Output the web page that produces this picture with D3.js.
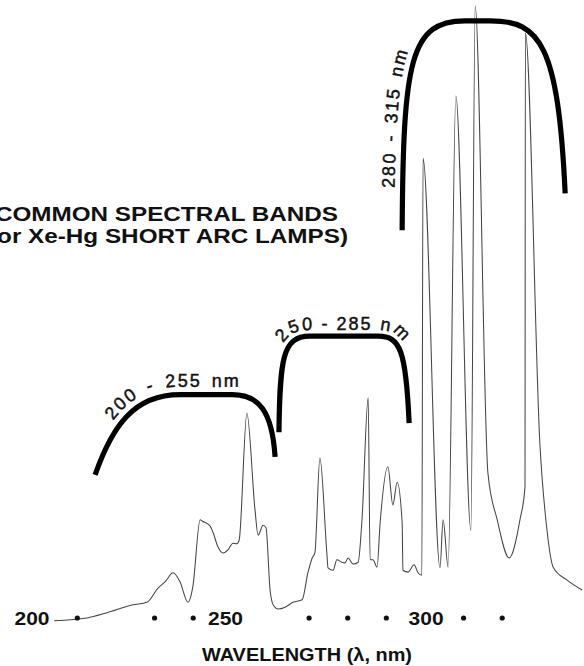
<!DOCTYPE html>
<html><head><meta charset="utf-8">
<script src="https://cdn.jsdelivr.net/npm/d3@7"></script>
<style>
html,body{margin:0;padding:0;background:#fff;}
svg{display:block;}
text{font-family:"Liberation Sans",Arial,Helvetica,sans-serif;fill:#111;}
</style></head><body>
<svg id="chart" width="584" height="666"></svg>
<script>
// ---- data ----
const wavelength = [204.0,212.5,217.7,224.4,228.0,230.9,232.7,234.8,236.6,238.65,239.9,241.8,242.3,244.35,245.1,246.4,247.7,249.0,250.3,251.3,251.9,253.9,256.0,256.8,258.1,258.85,259.9,260.7,262.0,263.8,265.8,268.2,269.7,270.8,271.5,272.8,274.6,274.9,276.2,277.2,278.5,279.3,280.1,281.4,282.7,283.7,285.3,285.8,286.55,287.6,288.4,290.4,291.7,292.8,294.1,294.3,295.6,297.2,298.2,299.2,299.5,303.9,304.7,306.0,308.0,311.9,313.0,316.3,318.7,321.8,324.6,325.9,326.0,329.8,331.6,333.2,336.8,340.7];
const intensity = [0.2,0.65,1.5,2.8,3.2,5.5,6.5,8.0,6.5,3.2,5.7,16.6,16.4,15.6,14.6,12.2,11.2,11.7,12.8,12.7,13.3,33.9,18.2,14.1,15.7,15.3,5.2,2.8,2.1,2.4,3.2,3.6,8.0,10.4,11.2,26.6,11.2,8.8,8.4,10.1,9.7,9.6,10.4,9.4,9.7,16.6,36.4,10.1,10.1,8.9,16.1,25.2,19.0,22.7,16.1,8.4,8.1,9.3,8.0,7.6,75.3,8.8,16.6,8.9,85.4,14.9,100,24.2,16.6,10.4,16.6,21.9,95.6,28.4,14.9,8.9,6.8,5.2];
const tickLabels = [200,250,300];
const tickDots = [210,230,240,270,280,290,310,320];
const bandLabels = ["200 - 255 nm","250 - 285 nm","280 - 315 nm"];
const bandStart = [214.6,262.2,294.1];
const bandEnd = [261.2,295.9,336.3];
const bandFootStart = [23.9,30.8,63.6];
const bandFootEnd = [26.8,32.3,69.6];
const bandTop = [36.9,46.4,97.6];
const titleLines = ["COMMON SPECTRAL BANDS","(or Xe-Hg SHORT ARC LAMPS)"];
const axisTitle = "WAVELENGTH (\u03BB, nm)";

// ---- styles / layout ----
const bandShape = [
  {wL:85,aL:0.2,bL:0.6,cL:0.45, wR:43,cR:0.4,aR:0.07,bR:0.76},
  {wL:31,aL:0.03,bL:0.75,cL:0.1, wR:31,cR:0.29,aR:0.1,bR:0.84},
  {wL:63,aL:0.016,bL:0.81,cL:0.127, wR:75,cR:0.33,aR:0.093,bR:0.86}
];
const labelOffset = [8,6,8];
const labelStartPt = [[104,414],[273,338],[394,188]];
const labelEndPt = [[241,384],[412,332],[397,46]];
const tickLabelDx = [-7.2,-6.8,0.6];

const svg = d3.select("#chart");
const x = d3.scaleLinear().domain([200,320]).range([38.7,502.2]);
const y = d3.scaleLinear().domain([0,100]).range([622,6]);
const axisY = 618;

// spectrum
const pts = wavelength.map((w,i)=>[w,intensity[i]]);
const line = d3.line().x(d=>x(d[0])).y(d=>y(d[1])).curve(d3.curveMonotoneX);
svg.append("path").attr("d",line(pts)).attr("fill","none")
  .attr("stroke","#454545").attr("stroke-width",1.05).attr("stroke-linejoin","round");

// brackets
function bracket(i,d){
  const s = bandShape[i];
  const xL = x(bandStart[i]) - d, xR = x(bandEnd[i]) + d;
  const yL = y(bandFootStart[i]), yR = y(bandFootEnd[i]), yT = y(bandTop[i]) - d;
  const wL = s.wL + d, wR = s.wR + d, hL = yL - yT, hR = yR - yT;
  const p = d3.path();
  p.moveTo(xL,yL);
  p.bezierCurveTo(xL+s.aL*wL, yL-s.bL*hL, xL+s.cL*wL, yT, xL+wL, yT);
  p.lineTo(xR-wR, yT);
  p.bezierCurveTo(xR-s.cR*wR, yT, xR-s.aR*wR, yR-s.bR*hR, xR, yR);
  return p.toString();
}
const defs = svg.append("defs");
bandLabels.forEach((lab,i)=>{
  svg.append("path").attr("d",bracket(i,0)).attr("fill","none")
    .attr("stroke","#000").attr("stroke-width",5.2).attr("stroke-linecap","butt");
  const lp = defs.append("path").attr("id","lp"+i).attr("d",bracket(i,labelOffset[i]));
  const node = lp.node();
  const total = node.getTotalLength();
  function nearest(pt){
    let best=0,bd=1e9;
    for(let l=0;l<=total;l+=0.5){const q=node.getPointAtLength(l);const dd=(q.x-pt[0])**2+(q.y-pt[1])**2;if(dd<bd){bd=dd;best=l;}}
    return best;
  }
  const s0 = nearest(labelStartPt[i]), s1 = nearest(labelEndPt[i]);
  const t = svg.append("text").attr("font-size",18).attr("font-weight","normal")
    .attr("stroke","#111").attr("stroke-width",0.45)
    .style("letter-spacing","2px");
  t.append("textPath").attr("href","#lp"+i).attr("startOffset",s0).text(lab);
  const nat = t.node().getComputedTextLength();
  const nSpaces = lab.split(" ").length-1;
  t.style("word-spacing",Math.max(0,(s1 - s0 - nat)/nSpaces)+"px");
});

// title
const titleStart = [[-5,221,338],[-11,243,348]];
titleLines.forEach((tl,i)=>{
  svg.append("text").attr("x",titleStart[i][0]).attr("y",titleStart[i][1])
    .attr("font-size",20.5).attr("font-weight","bold")
    .attr("textLength",titleStart[i][2]-titleStart[i][0])
    .attr("lengthAdjust","spacingAndGlyphs").text(tl);
});

// x axis: labels + dots
const axis = d3.axisBottom(x).tickValues(tickLabels).tickSize(0).tickFormat(d3.format("d"));
const g = svg.append("g").attr("transform",`translate(0,${axisY})`).call(axis);
g.select(".domain").remove();
g.selectAll(".tick text").attr("y",0).attr("dy","0.36em")
  .attr("dx",(d,i)=>tickLabelDx[i])
  .attr("font-family","'Liberation Sans',Arial,sans-serif")
  .attr("font-size",18.5).attr("font-weight","bold").attr("fill","#111")
  .attr("textLength",35).attr("lengthAdjust","spacingAndGlyphs");
svg.selectAll("circle.dot").data(tickDots).enter().append("circle")
  .attr("class","dot").attr("cx",d=>x(d)).attr("cy",axisY).attr("r",2.6).attr("fill","#111");

// axis title
svg.append("text").attr("x",202).attr("y",661)
  .attr("font-size",19).attr("font-weight","bold")
  .attr("textLength",210).attr("lengthAdjust","spacingAndGlyphs").text(axisTitle);
</script>
</body></html>
